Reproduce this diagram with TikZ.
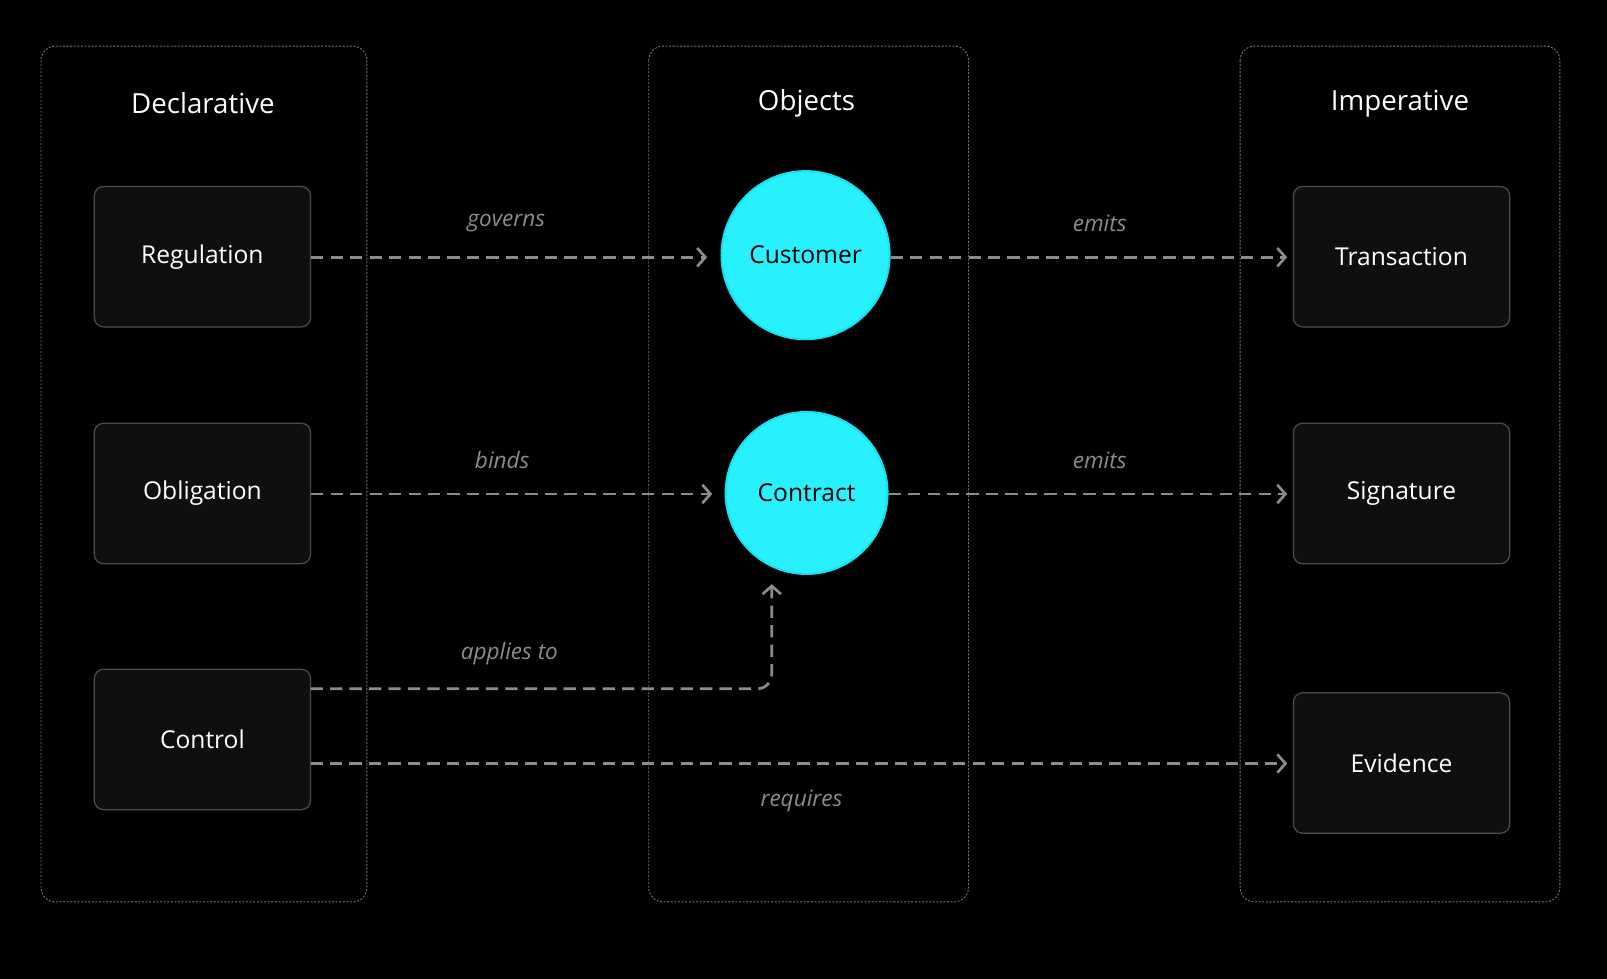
\documentclass[tikz,border=0pt]{standalone}
\usepackage{fontspec}
\setmainfont{Open Sans}
\usetikzlibrary{arrows.meta}
\definecolor{objc}{RGB}{40,240,252}
\definecolor{objd}{RGB}{20,225,245}
\begin{document}
\begin{tikzpicture}[x=1pt,y=-1pt,
  panel/.style={draw=white!45!black,dash pattern=on 2pt off 1.5pt,line width=0.9pt,rounded corners=14pt},
  box/.style={draw=white!30!black,fill=white!6!black,line width=1.2pt,rounded corners=9pt,minimum width=211pt,minimum height=137pt,text=white,font=\fontsize{24}{28}\selectfont},
  obj/.style={circle,fill=objc,draw=objd,line width=2pt,text=black,font=\fontsize{24}{28}\selectfont,inner sep=0pt},
  title/.style={text=white,font=\fontsize{27}{32}\selectfont},
  lab/.style={text=white!55!black,font=\itshape\fontsize{22}{26}\selectfont},
  conn/.style={draw=white!55!black,line width=2.6pt,dash pattern=on 12pt off 7pt,-{Straight Barb[length=8pt,width=18pt,line width=2.6pt]}}]
\fill[black] (0,0) rectangle (1568,955);
\useasboundingbox (0,0) rectangle (1568,955);
\draw[panel] (40,45) rectangle (358,880);
\draw[panel] (633,45) rectangle (945,880);
\draw[panel] (1210,45) rectangle (1522,880);
\node[title] (tD) at (198,101) {Declarative};
\node[title] (tO) at (787,101) {Objects};
\node[title] (tI) at (1366,101) {Imperative};
\node[box] (reg) at (197.5,250.5) {Regulation};
\node[box] (obl) at (197.5,481.5) {Obligation};
\node[box] (ctl) at (197.5,721.5) {Control};
\node[box] (tra) at (1367.5,250.5) {Transaction};
\node[box] (sig) at (1367.5,481.5) {Signature};
\node[box] (evi) at (1367.5,744.5) {Evidence};
\node[obj,minimum size=164pt] (cus) at (786,249) {Customer};
\node[obj,minimum size=158pt] (con) at (787,481) {Contract};
\coordinate (a1) at (303,672);
\coordinate (a2) at (303,745);
\draw[conn] (reg.east |- 0,251) -- (690,251);
\draw[conn] (cus.east |- 0,251) -- (1256,251);
\draw[conn] (obl.east |- 0,482) -- (695,482);
\draw[conn] (con.east |- 0,482) -- (1256,482);
\draw[conn,rounded corners=14pt] (a1) -- (753,672) -- (753,570);
\draw[conn] (a2) -- (1256,745);
\node[lab] (l1) at (494,218) {governs};
\node[lab] (l2) at (1073,218) {emits};
\node[lab] (l3) at (490,449) {binds};
\node[lab] (l4) at (1073,449) {emits};
\node[lab] (l5) at (497,638) {applies to};
\node[lab] (l6) at (782,781) {requires};
\end{tikzpicture}
\end{document}
